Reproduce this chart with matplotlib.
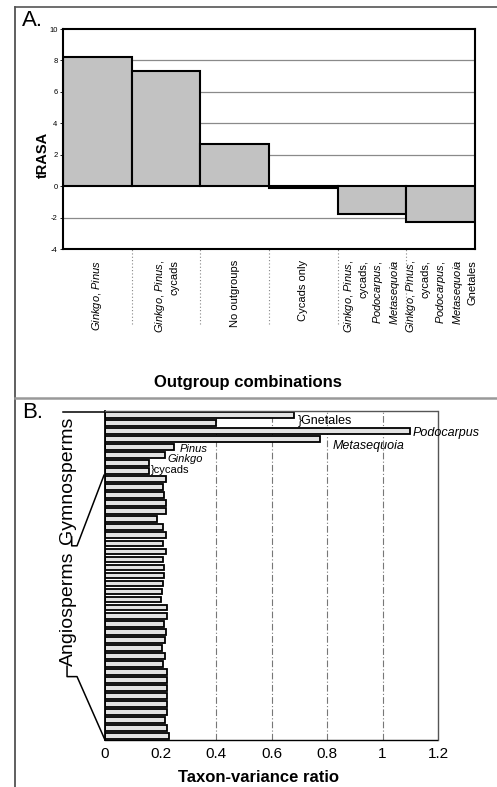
import numpy as np
import matplotlib
matplotlib.use("Agg")
import matplotlib.pyplot as plt
from matplotlib.lines import Line2D

plt.rcParams["font.family"] = ["Liberation Sans", "DejaVu Sans"]
plt.rcParams["mathtext.fontset"] = "custom"
plt.rcParams["mathtext.it"] = "Liberation Sans:italic"
plt.rcParams["mathtext.rm"] = "Liberation Sans"
plt.rcParams["axes.unicode_minus"] = False

# ---- panel A data ----
outgroups = [
    r"$\it{Ginkgo}$, $\it{Pinus}$",
    r"$\it{Ginkgo}$, $\it{Pinus}$," + "\ncycads",
    "No outgroups",
    "Cycads only",
    r"$\it{Ginkgo}$, $\it{Pinus}$," + "\ncycads,\n" + r"$\it{Podocarpus}$," + "\n" + r"$\it{Metasequoia}$",
    r"$\it{Ginkgo}$, $\it{Pinus}$," + "\ncycads,\n" + r"$\it{Podocarpus}$," + "\n" + r"$\it{Metasequoia}$" + "\nGnetales",
]
trasa = [8.2, 7.35, 2.7, -0.1, -1.8, -2.25]
trasa_ticks = [-4, -2, 0, 2, 4, 6, 8, 10]
trasa_grid = [-2, 2, 4, 6, 8]

# ---- panel B data ----
gymno_ratio = [0.68, 0.40, 1.10, 0.775, 0.25, 0.215, 0.16, 0.16]
angio_ratio = [0.219, 0.21, 0.213, 0.219, 0.219, 0.186, 0.21, 0.22, 0.21, 0.22,
               0.21, 0.213, 0.213, 0.21, 0.206, 0.20, 0.222, 0.222, 0.213, 0.22,
               0.216, 0.206, 0.216, 0.21, 0.224, 0.224, 0.224, 0.224, 0.222, 0.224,
               0.217, 0.224, 0.232]
ratio_ticks = [0, 0.2, 0.4, 0.6, 0.8, 1.0, 1.2]
ratio_ticklabels = ["0", "0.2", "0.4", "0.6", "0.8", "1", "1.2"]
ratio_grid = [0.4, 0.6, 0.8, 1.0]

W, H = 497, 787
fig = plt.figure(figsize=(W / 100, H / 100), dpi=100)


def fx(px):
    return px / W


def fy(py):
    return 1 - py / H


# outer frame
fig.add_artist(Line2D([fx(15), fx(15)], [fy(7), 0], color="#444444", lw=1.2))
fig.add_artist(Line2D([fx(15), 1], [fy(7), fy(7)], color="#555555", lw=1.2))
fig.add_artist(Line2D([fx(15), 1], [fy(398), fy(398)], color="#999999", lw=1.8))

# ---------------- panel A ----------------
axA = fig.add_axes([fx(63), fy(249), fx(475) - fx(63), fy(29) - fy(249)])
x = np.arange(len(trasa))
for g in trasa_grid:
    axA.axhline(g, color="#8a8a8a", lw=0.9, zorder=0)
axA.bar(x, trasa, width=1.0, color="#c2c2c2", edgecolor="black", linewidth=1.5, zorder=2)
axA.axhline(0, color="black", lw=1.2, zorder=3)
axA.set_xlim(-0.5, len(trasa) - 0.5)
axA.set_ylim(-4, 10)
axA.set_yticks(trasa_ticks)
axA.tick_params(axis="y", labelsize=5.5, length=2, width=0.6, pad=2)
axA.set_xticks(x)
axA.set_xticklabels(outgroups, rotation=90, fontsize=8, multialignment="right",
                    linespacing=1.3)
axA.tick_params(axis="x", length=0, pad=8)
for s in axA.spines.values():
    s.set_linewidth(1.5)
# dotted separators below the axis
axA.vlines(x[:-1] + 0.5, -0.34, 0, transform=axA.get_xaxis_transform(),
           colors="#888888", linestyles=(0, (1, 2)), lw=0.8, clip_on=False)

fig.text(fx(22), fy(20), "A.", fontsize=16, va="center", ha="left")
fig.text(fx(43), fy(155), "tRASA", fontsize=10.5, fontweight="bold",
         rotation=90, ha="center", va="center")
fig.text(fx(248), fy(383), "Outgroup combinations", fontsize=12, fontweight="bold",
         ha="center", va="center")

# ---------------- panel B ----------------
axB = fig.add_axes([fx(105), fy(740), fx(438) - fx(105), fy(411) - fy(740)])
ratios = gymno_ratio + angio_ratio
yb = np.arange(len(ratios))
for g in ratio_grid:
    axB.axvline(g, color="#777777", lw=0.8, linestyle=(0, (6, 2, 1, 2)), zorder=0)
axB.barh(yb, ratios, height=0.72, color="#e2e2e2", edgecolor="black", linewidth=1.3, zorder=2)
axB.set_ylim(len(ratios) - 0.5, -0.5)
axB.set_xlim(0, 1.2)
axB.set_yticks([])
axB.set_xticks(ratio_ticks)
axB.set_xticklabels(ratio_ticklabels)
axB.tick_params(axis="x", length=0, labelsize=11, pad=5)
axB.spines["left"].set_linewidth(1.3)
for side in ["top", "right", "bottom"]:
    axB.spines[side].set_linestyle((0, (1, 1)))
    axB.spines[side].set_linewidth(1.0)
axB.spines["top"].set_color("#555555")
axB.spines["right"].set_color("#555555")

lab_kw = dict(va="center", ha="left")
axB.text(0.695, 0.8, "}Gnetales", fontsize=9, **lab_kw)
axB.text(1.11, 2.2, "Podocarpus", style="italic", fontsize=9, **lab_kw)
axB.text(0.82, 3.8, "Metasequoia", style="italic", fontsize=9, **lab_kw)
axB.text(0.27, 4.2, "Pinus", style="italic", fontsize=8, **lab_kw)
axB.text(0.225, 5.5, "Ginkgo", style="italic", fontsize=8, **lab_kw)
axB.text(0.165, 6.8, "}cycads", fontsize=8, **lab_kw)

# group brackets (x in axes fraction, y in bar units)
tr = axB.get_yaxis_transform()
n_g = len(gymno_ratio)
n_all = len(ratios)
bk = dict(color="black", lw=1.1, transform=tr, clip_on=False)
axB.add_line(Line2D([-0.126, 0], [-0.35, -0.35], **bk))
axB.add_line(Line2D([-0.100, -0.100, -0.084, -0.003], [15.2, 16.3, 16.3, n_g - 0.5], **bk))
axB.add_line(Line2D([-0.114, -0.114, -0.084, 0], [31.3, 32.6, 32.6, n_all - 0.5], **bk))
axB.text(-0.114, 8.1, "Gymnosperms", transform=tr, rotation=90, fontsize=14,
         ha="center", va="center")
axB.text(-0.110, 24.2, "Angiosperms", transform=tr, rotation=90, fontsize=14,
         ha="center", va="center")

fig.text(fx(22), fy(413), "B.", fontsize=16, va="center", ha="left")
fig.text(fx(258), fy(777), "Taxon-variance ratio", fontsize=12, fontweight="bold",
         ha="center", va="center")

fig.savefig("out.png", dpi=100)
